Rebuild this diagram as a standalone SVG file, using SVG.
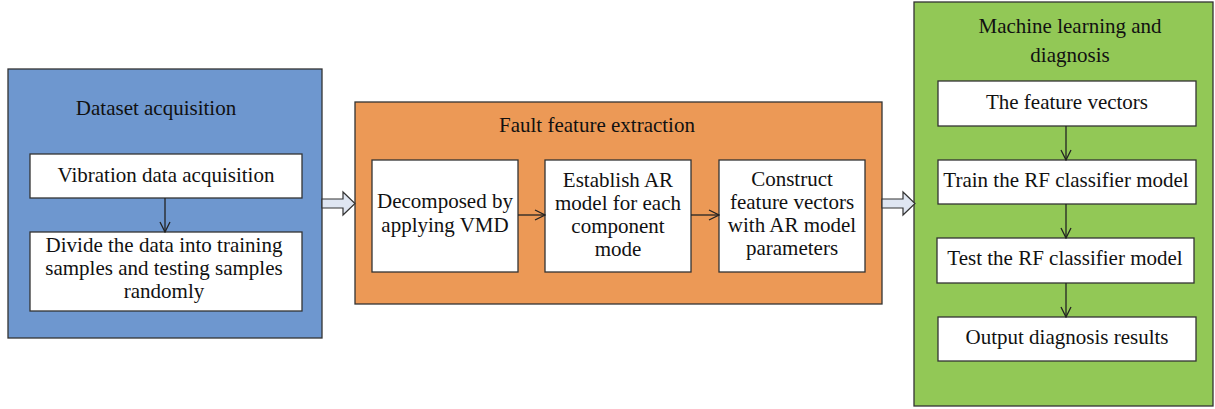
<svg xmlns="http://www.w3.org/2000/svg" width="1215" height="409" viewBox="0 0 1215 409">
  <style>
    text { font-family: "Liberation Serif", "Times New Roman", serif; font-size: 21px; fill: #111; text-anchor: middle; }
    .panel { stroke: #333; stroke-width: 1.3; }
    .box { fill: #fff; stroke: #333; stroke-width: 1.3; }
    .link { stroke: #222; stroke-width: 1.3; fill: none; marker-end: url(#tip); }
    .fat { fill: #dfe6f2; stroke: #333; stroke-width: 1.2; }
  </style>
  <defs>
    <marker id="tip" viewBox="0 0 12 12" refX="11" refY="6" markerWidth="12" markerHeight="12" markerUnits="userSpaceOnUse" orient="auto">
      <path d="M1,1 L11,6 L1,11" fill="none" stroke="#222" stroke-width="1.3"/>
    </marker>
  </defs>

  <!-- Dataset acquisition panel -->
  <g id="dataset">
    <rect class="panel" x="8" y="69" width="314" height="269" fill="#6e97cf"/>
    <text x="156" y="115">Dataset acquisition</text>
  </g>
  <g id="vibration">
    <rect class="box" x="30" y="154" width="272" height="44"/>
    <text x="166" y="182">Vibration data acquisition</text>
  </g>
  <g id="divide">
    <rect class="box" x="30" y="232" width="272" height="79"/>
    <text x="164" y="252">Divide the data into training</text>
    <text x="164" y="275">samples and testing samples</text>
    <text x="164" y="298">randomly</text>
  </g>

  <!-- Fault feature extraction panel -->
  <g id="extraction">
    <rect class="panel" x="355" y="102" width="527" height="202" fill="#ec9956"/>
    <text x="597" y="132">Fault feature extraction</text>
  </g>
  <g id="vmd">
    <rect class="box" x="372" y="160" width="146" height="112"/>
    <text x="445" y="208">Decomposed by</text>
    <text x="445" y="232">applying VMD</text>
  </g>
  <g id="ar">
    <rect class="box" x="545" y="160" width="146" height="112"/>
    <text x="618" y="187">Establish AR</text>
    <text x="618" y="210">model for each</text>
    <text x="618" y="233">component</text>
    <text x="618" y="256">mode</text>
  </g>
  <g id="construct">
    <rect class="box" x="719" y="160" width="146" height="112"/>
    <text x="792" y="186">Construct</text>
    <text x="792" y="209">feature vectors</text>
    <text x="792" y="232">with AR model</text>
    <text x="792" y="255">parameters</text>
  </g>

  <!-- Machine learning and diagnosis panel -->
  <g id="learning">
    <rect class="panel" x="914" y="2" width="299" height="404" fill="#92c856"/>
    <text x="1070" y="33">Machine learning and</text>
    <text x="1070" y="62">diagnosis</text>
  </g>
  <g id="vectors">
    <rect class="box" x="938" y="81" width="258" height="45"/>
    <text x="1067" y="109">The feature vectors</text>
  </g>
  <g id="train">
    <rect class="box" x="938" y="160" width="258" height="44"/>
    <text x="1066" y="187">Train the RF classifier model</text>
  </g>
  <g id="test">
    <rect class="box" x="937" y="238" width="257" height="45"/>
    <text x="1065" y="265">Test the RF classifier model</text>
  </g>
  <g id="output">
    <rect class="box" x="938" y="317" width="258" height="44"/>
    <text x="1067" y="344">Output diagnosis results</text>
  </g>

  <!-- Connectors -->
  <g id="connectors">
    <line class="link" x1="165" y1="198" x2="165" y2="232"/>
    <line class="link" x1="518" y1="215" x2="545" y2="215"/>
    <line class="link" x1="691" y1="215" x2="719" y2="215"/>
    <line class="link" x1="1066" y1="126" x2="1066" y2="160"/>
    <line class="link" x1="1066" y1="204" x2="1066" y2="238"/>
    <line class="link" x1="1066" y1="283" x2="1066" y2="317"/>
    <path class="fat" d="M322,199 L343,199 L343,192 L355,203.5 L343,215 L343,208 L322,208 Z"/>
    <path class="fat" d="M882,199 L903,199 L903,192 L915,203.5 L903,215 L903,208 L882,208 Z"/>
  </g>
</svg>
